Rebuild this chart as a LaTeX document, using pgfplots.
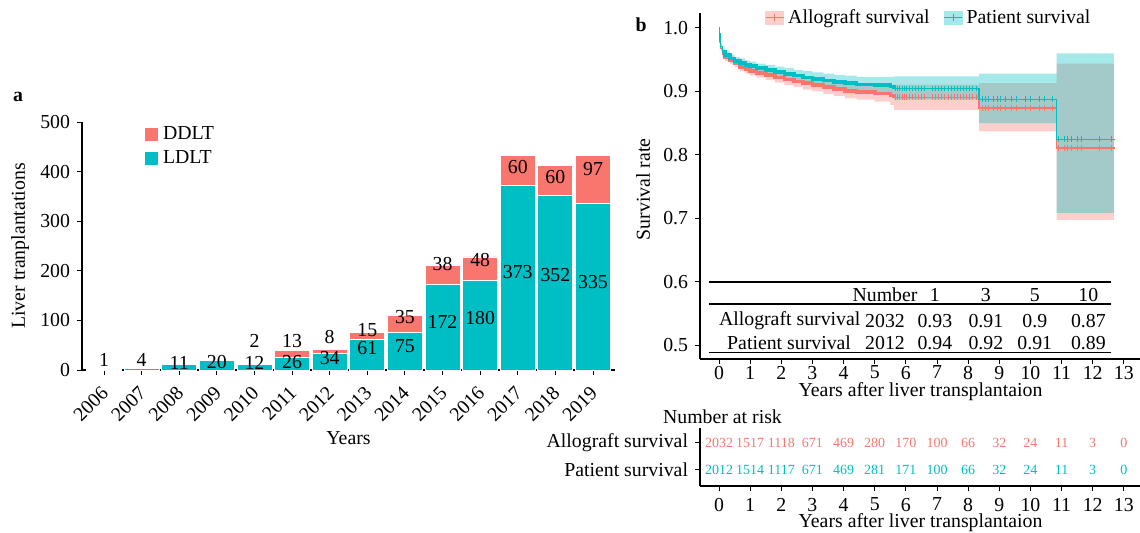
\documentclass[border=0pt]{standalone}
\usepackage{fontspec}
\setmainfont{Liberation Serif}
\usepackage{pgfplots}
\pgfplotsset{compat=1.18}
\usepgfplotslibrary{fillbetween}
\definecolor{cR}{HTML}{F8766D}
\definecolor{cT}{HTML}{00BFC4}
\pgfplotsset{
  common/.style={scale only axis, axis x line*=bottom, axis y line*=left,
    tick align=outside, major tick length=2.5pt,
    tick style={black, line width=0.5pt},
    axis line style={black, line width=0.6pt},
    /pgf/number format/assume math mode=true},
}
\begin{document}
\fontsize{9.9}{11.5}\selectfont
\begin{tikzpicture}
% ---------------- panel a ----------------
\begin{axis}[common, at={(41pt,-61pt)}, anchor=north west, width=266.5pt, height=124pt,
  ybar stacked, bar width=17.5pt,
  xmin=-0.585, xmax=13.585, ymin=0, ymax=500,
  xtick={0,...,13},
  xticklabels={2006,2007,2008,2009,2010,2011,2012,2013,2014,2015,2016,2017,2018,2019},
  xticklabel style={rotate=45, anchor=north east, inner sep=1pt, xshift=-3.6pt, yshift=-0.9pt},
  ytick={0,100,200,300,400,500},
  xlabel={Years}, ylabel={Liver tranplantations},
  xlabel style={at={(0.5,-0.274)}, anchor=center},
  ylabel style={at={(-0.116,0.5)}, anchor=center},
  reverse legend,
  legend style={at={(0.116,1.0)}, anchor=north west, draw=none, fill=none, inner sep=0pt},
  legend cell align=left,
  legend image code/.code={\fill[#1] (0pt,-3.5pt) rectangle (7pt,3.5pt);},
  clip=false,
  after end axis/.code={
    \node at (axis cs:0,20) {1};
    \node at (axis cs:1,20) {4};
    \node at (axis cs:2,14) {11};
    \node at (axis cs:3,16) {20};
    \node at (axis cs:4,14) {12};
    \node at (axis cs:5,16) {26};
    \node at (axis cs:6,24) {34};
    \node at (axis cs:7,44) {61};
    \node at (axis cs:8,48) {75};
    \node at (axis cs:9,97) {172};
    \node at (axis cs:10,105) {180};
    \node at (axis cs:11,198) {373};
    \node at (axis cs:12,191) {352};
    \node at (axis cs:13,177) {335};
    \node at (axis cs:4,58) {2};
    \node at (axis cs:5,58) {13};
    \node at (axis cs:6,66) {8};
    \node at (axis cs:7,81) {15};
    \node at (axis cs:8,107) {35};
    \node at (axis cs:9,214) {38};
    \node at (axis cs:10,222) {48};
    \node at (axis cs:11,409) {60};
    \node at (axis cs:12,389) {60};
    \node at (axis cs:13,405) {97};
  }]
\addplot[fill=cT, draw=white, line width=0.4pt] coordinates {
 (0,1) (1,4) (2,11) (3,20) (4,12) (5,26) (6,34) (7,61) (8,75) (9,172) (10,180) (11,373) (12,352) (13,335)};
\addlegendentry{LDLT}
\addplot[fill=cR, draw=white, line width=0.4pt] coordinates {
 (0,0) (1,0) (2,0) (3,0) (4,2) (5,13) (6,8) (7,15) (8,35) (9,38) (10,48) (11,60) (12,60) (13,97)};
\addlegendentry{DDLT}
\end{axis}
\node at (9pt,-48.5pt) {\textbf{a}};
\node at (320.5pt,-12.5pt) {\textbf{b}};
% ---------------- panel b ----------------
\begin{axis}[common, at={(350pt,-6.5pt)}, anchor=north west, width=220.5pt, height=173pt,
  xmin=-0.61, xmax=13.55, ymin=0.4787, ymax=1.0236,
  xtick={0,...,13}, ytick={0.5,0.6,0.7,0.8,0.9,1.0},
  xticklabel style={yshift=2.5pt},
  yticklabel style={/pgf/number format/.cd, fixed, fixed zerofill, precision=1},
  xlabel={Years after liver transplantaion}, ylabel={Survival rate},
  xlabel style={at={(0.5,-0.095)}, anchor=center},
  ylabel style={at={(-0.129,0.49)}, anchor=center},
  clip=false,
  legend columns=2,
  legend style={at={(0.147,0.986)}, anchor=west, draw=none, fill=none, inner sep=0pt,
    /tikz/every even column/.append style={column sep=5pt}},
  legend cell align=left]
\addlegendimage{legend image code/.code={\fill[cR!35] (0pt,-3.25pt) rectangle (9pt,3.25pt);
  \draw[cR, line width=0.5pt] (0pt,0pt)--(9pt,0pt); \draw[cR, line width=0.5pt] (4.5pt,-1.8pt)--(4.5pt,1.8pt);}}
\addlegendentry{Allograft survival}
\addlegendimage{legend image code/.code={\fill[cT!35] (0pt,-3.25pt) rectangle (9pt,3.25pt);
  \draw[cT, line width=0.5pt] (0pt,0pt)--(9pt,0pt); \draw[cT, line width=0.5pt] (4.5pt,-1.8pt)--(4.5pt,1.8pt);}}
\addlegendentry{Patient survival}
% red band
\addplot[name path=rU, draw=none, const plot, forget plot] coordinates {
 (0,1.0) (0.01,0.993) (0.03,0.982) (0.06,0.973) (0.1,0.965) (0.2,0.960) (0.35,0.955) (0.5,0.950)
 (0.67,0.946) (0.85,0.942) (1.0,0.939) (1.2,0.936) (1.5,0.934) (1.8,0.930) (2.1,0.928) (2.4,0.925)
 (2.7,0.923) (3.0,0.920) (3.35,0.918) (3.7,0.915) (4.05,0.913) (4.42,0.911) (5.0,0.910) (5.5,0.909)
 (5.62,0.911) (8.35,0.913) (10.84,0.944) (12.68,0.944)};
\addplot[name path=rL, draw=none, const plot, forget plot] coordinates {
 (0,1.0) (0.01,0.987) (0.03,0.974) (0.06,0.963) (0.1,0.955) (0.2,0.948) (0.35,0.943) (0.5,0.938)
 (0.67,0.932) (0.85,0.928) (1.0,0.925) (1.2,0.922) (1.5,0.918) (1.8,0.914) (2.1,0.910) (2.4,0.907)
 (2.7,0.903) (3.0,0.900) (3.35,0.896) (3.7,0.893) (4.05,0.889) (4.42,0.887) (5.0,0.884) (5.5,0.879)
 (5.62,0.871) (8.35,0.837) (10.84,0.698) (12.68,0.698)};
\addplot[fill=cR, opacity=0.35, draw=none, forget plot] fill between[of=rU and rL];
% teal band
\addplot[name path=tU, draw=none, const plot, forget plot] coordinates {
 (0,1.0) (0.01,0.994) (0.03,0.984) (0.06,0.976) (0.1,0.968) (0.2,0.963) (0.35,0.958) (0.5,0.954)
 (0.67,0.952) (0.85,0.949) (1.0,0.947) (1.2,0.944) (1.5,0.942) (1.8,0.939) (2.1,0.937) (2.4,0.934)
 (2.7,0.932) (3.0,0.930) (3.35,0.928) (3.7,0.926) (4.05,0.925) (4.42,0.923) (5.0,0.923) (5.5,0.923)
 (5.62,0.924) (8.35,0.928) (10.84,0.960) (12.68,0.960)};
\addplot[name path=tL, draw=none, const plot, forget plot] coordinates {
 (0,1.0) (0.01,0.988) (0.03,0.976) (0.06,0.966) (0.1,0.958) (0.2,0.951) (0.35,0.946) (0.5,0.942)
 (0.67,0.938) (0.85,0.935) (1.0,0.933) (1.2,0.930) (1.5,0.926) (1.8,0.923) (2.1,0.919) (2.4,0.916)
 (2.7,0.912) (3.0,0.910) (3.35,0.906) (3.7,0.904) (4.05,0.901) (4.42,0.899) (5.0,0.897) (5.5,0.893)
 (5.62,0.887) (8.35,0.850) (10.84,0.709) (12.68,0.709)};
\addplot[fill=cT, opacity=0.35, draw=none, forget plot] fill between[of=tU and tL];
% curves
\addplot[cR, line width=0.6pt, const plot, forget plot] coordinates {
 (0,1.0) (0.01,0.990) (0.03,0.978) (0.06,0.968) (0.1,0.960) (0.2,0.954) (0.35,0.949) (0.5,0.944)
 (0.67,0.939) (0.85,0.935) (1.0,0.932) (1.2,0.929) (1.5,0.926) (1.8,0.922) (2.1,0.919) (2.4,0.916)
 (2.7,0.913) (3.0,0.910) (3.35,0.907) (3.7,0.904) (4.05,0.901) (4.42,0.899) (5.0,0.897) (5.5,0.894)
 (5.62,0.891) (8.35,0.874) (10.84,0.811) (12.72,0.811)};
\addplot[cR, line width=1.8pt, const plot, forget plot] coordinates {
 (0.1,0.960) (0.2,0.954) (0.35,0.949) (0.5,0.944)
 (0.67,0.939) (0.85,0.935) (1.0,0.932) (1.2,0.929) (1.5,0.926) (1.8,0.922) (2.1,0.919) (2.4,0.916)
 (2.7,0.913) (3.0,0.910) (3.35,0.907) (3.7,0.904) (4.05,0.901) (4.42,0.899) (5.0,0.897) (5.5,0.894)
 (5.62,0.891)};
\addplot[cT, line width=0.6pt, const plot, forget plot] coordinates {
 (0,1.0) (0.01,0.991) (0.03,0.980) (0.06,0.971) (0.1,0.963) (0.2,0.957) (0.35,0.952) (0.5,0.948)
 (0.67,0.945) (0.85,0.942) (1.0,0.940) (1.2,0.937) (1.5,0.934) (1.8,0.931) (2.1,0.928) (2.4,0.925)
 (2.7,0.922) (3.0,0.920) (3.35,0.917) (3.7,0.915) (4.05,0.913) (4.42,0.911) (5.0,0.910) (5.5,0.908)
 (5.62,0.905) (8.35,0.888) (10.84,0.825) (12.72,0.825)};
\addplot[cT, line width=1.8pt, const plot, forget plot] coordinates {
 (0.1,0.963) (0.2,0.957) (0.35,0.952) (0.5,0.948)
 (0.67,0.945) (0.85,0.942) (1.0,0.940) (1.2,0.937) (1.5,0.934) (1.8,0.931) (2.1,0.928) (2.4,0.925)
 (2.7,0.922) (3.0,0.920) (3.35,0.917) (3.7,0.915) (4.05,0.913) (4.42,0.911) (5.0,0.910) (5.5,0.908)
 (5.62,0.905)};
% censor marks
\addplot[only marks, mark=+, mark size=1.4pt, cR, line width=0.4pt, forget plot] coordinates {
 (5.65,0.891) (5.72,0.891) (5.8,0.891) (5.88,0.891) (5.95,0.891) (6.02,0.891) (6.1,0.891) (6.2,0.891)
 (6.3,0.891) (6.4,0.891) (6.5,0.891) (6.6,0.891) (6.85,0.891) (6.95,0.891) (7.05,0.891) (7.15,0.891)
 (7.25,0.891) (7.35,0.891) (7.45,0.891) (7.55,0.891) (7.65,0.891) (7.75,0.891) (7.85,0.891) (7.95,0.891)
 (8.05,0.891) (8.15,0.891) (8.25,0.891)
 (8.45,0.874) (8.55,0.874) (8.65,0.874) (8.8,0.874) (8.95,0.874) (9.05,0.874) (9.2,0.874) (9.4,0.874)
 (9.55,0.874) (9.85,0.874) (10.0,0.874) (10.3,0.874) (10.45,0.874) (10.7,0.874)
 (10.9,0.811) (11.1,0.811) (11.2,0.811) (11.3,0.811) (11.5,0.811) (11.65,0.811) (12.2,0.811) (12.6,0.811)};
\addplot[only marks, mark=+, mark size=1.4pt, cT, line width=0.4pt, forget plot] coordinates {
 (5.65,0.905) (5.72,0.905) (5.8,0.905) (5.88,0.905) (5.95,0.905) (6.02,0.905) (6.1,0.905) (6.2,0.905)
 (6.3,0.905) (6.4,0.905) (6.5,0.905) (6.6,0.905) (6.85,0.905) (6.95,0.905) (7.05,0.905) (7.15,0.905)
 (7.25,0.905) (7.35,0.905) (7.45,0.905) (7.55,0.905) (7.65,0.905) (7.75,0.905) (7.85,0.905) (7.95,0.905)
 (8.05,0.905) (8.15,0.905) (8.25,0.905)
 (8.45,0.888) (8.55,0.888) (8.65,0.888) (8.8,0.888) (8.95,0.888) (9.05,0.888) (9.2,0.888) (9.4,0.888)
 (9.55,0.888) (9.85,0.888) (10.0,0.888) (10.3,0.888) (10.45,0.888) (10.7,0.888)
 (10.9,0.825) (11.1,0.825) (11.2,0.825) (11.3,0.825) (11.5,0.825) (11.65,0.825) (12.2,0.825) (12.6,0.825)};
% summary table
\draw[line width=0.6pt] (axis cs:-0.32,0.6) -- (axis cs:12.58,0.6);
\draw[line width=0.6pt] (axis cs:-0.32,0.5654) -- (axis cs:12.58,0.5654);
\draw[line width=0.6pt] (axis cs:-0.32,0.4887) -- (axis cs:12.58,0.4887);
\node at (axis cs:5.33,0.5795) {Number};
\node at (axis cs:6.93,0.5795) {1};
\node at (axis cs:8.57,0.5795) {3};
\node at (axis cs:10.14,0.5795) {5};
\node at (axis cs:11.86,0.5795) {10};
\node at (axis cs:2.27,0.539) {Allograft survival};
\node at (axis cs:5.33,0.539) {2032};
\node at (axis cs:6.93,0.539) {0.93};
\node at (axis cs:8.57,0.539) {0.91};
\node at (axis cs:10.14,0.539) {0.9};
\node at (axis cs:11.86,0.539) {0.87};
\node at (axis cs:2.25,0.5044) {Patient survival};
\node at (axis cs:5.33,0.5044) {2012};
\node at (axis cs:6.93,0.5044) {0.94};
\node at (axis cs:8.57,0.5044) {0.92};
\node at (axis cs:10.14,0.5044) {0.91};
\node at (axis cs:11.86,0.5044) {0.89};
\end{axis}
% ---------------- risk table ----------------
\begin{axis}[common, at={(350pt,-214pt)}, anchor=north west, width=220.5pt, height=29pt,
  xmin=-0.61, xmax=13.55, ymin=0.4, ymax=2.55,
  xtick={0,...,13}, ytick={1,2}, yticklabels={Patient survival, Allograft survival},
  xlabel={Years after liver transplantaion},
  xlabel style={at={(0.5,-0.638)}, anchor=center},
  clip=false]
\addplot[only marks, mark=*, mark size=0pt, scatter/use mapped color={draw=none, fill=none},
  nodes near coords, point meta=explicit symbolic,
  every node near coord/.append style={font=\fontsize{7}{8}\selectfont, text=cR, anchor=center}]
  table[meta=n] {
x y n
0 2 2032
1 2 1517
2 2 1118
3 2 671
4 2 469
5 2 280
6 2 170
7 2 100
8 2 66
9 2 32
10 2 24
11 2 11
12 2 3
13 2 0
};
\addplot[only marks, mark=*, mark size=0pt, scatter/use mapped color={draw=none, fill=none},
  nodes near coords, point meta=explicit symbolic,
  every node near coord/.append style={font=\fontsize{7}{8}\selectfont, text=cT, anchor=center}]
  table[meta=n] {
x y n
0 1 2012
1 1 1514
2 1 1117
3 1 671
4 1 469
5 1 281
6 1 171
7 1 100
8 1 66
9 1 32
10 1 24
11 1 11
12 1 3
13 1 0
};
\node at (rel axis cs:0.051,1.19) {Number at risk};
\end{axis}
\pgfresetboundingbox
\path[use as bounding box] (0pt,0pt) rectangle (570pt,-266pt);
\end{tikzpicture}
\end{document}
